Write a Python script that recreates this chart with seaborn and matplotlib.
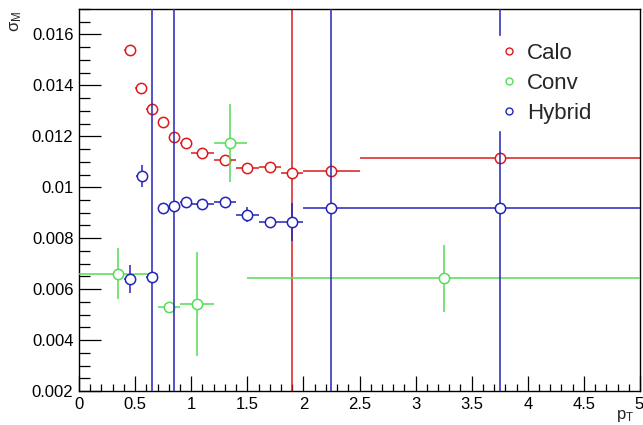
import numpy as np
import pandas as pd
import matplotlib
matplotlib.use("Agg")
import matplotlib.pyplot as plt
from matplotlib.lines import Line2D
from matplotlib.ticker import MultipleLocator, FormatStrFormatter
import seaborn as sns

# Mass resolution vs pT for three reconstruction methods
calo_pt   = [0.45, 0.55, 0.65, 0.75, 0.85, 0.95, 1.1, 1.3, 1.5, 1.7, 1.9, 2.25, 3.75]
calo_xerr = [0.05, 0.05, 0.05, 0.05, 0.05, 0.05, 0.1, 0.1, 0.1, 0.1, 0.1, 0.25, 1.25]
calo_sig  = [0.01541, 0.01391, 0.01308, 0.01258, 0.01198, 0.01174, 0.01134,
             0.01107, 0.01075, 0.01080, 0.01056, 0.01063, 0.01116]
calo_yerr = [0.00012, 0.00010, 0.00010, 0.00010, 0.00010, 0.00010, 0.00008,
             0.00012, 0.00008, 0.00008, 0.02, 0.00010, 0.00010]

conv_pt   = [0.35, 0.8, 1.05, 1.35, 3.25]
conv_xerr = [0.35, 0.1, 0.15, 0.15, 1.75]
conv_sig  = [0.00660, 0.00530, 0.00542, 0.01174, 0.00642]
conv_yerr = [0.00100, 0.00005, 0.00205, 0.00152, 0.00131]

hyb_pt    = [0.45, 0.557, 0.65, 0.75, 0.85, 0.95, 1.1, 1.3, 1.5, 1.7, 1.9, 2.25, 3.75]
hyb_xerr  = [0.05, 0.05, 0.05, 0.05, 0.05, 0.05, 0.1, 0.1, 0.1, 0.1, 0.1, 0.25, 1.25]
hyb_sig   = [0.00641, 0.01045, 0.00647, 0.00918, 0.00928, 0.00941, 0.00936,
             0.00944, 0.00893, 0.00863, 0.00863, 0.00918, 0.00918]
hyb_yerr  = [0.00055, 0.00042, 0.02, 0.00008, 0.02, 0.00016, 0.00008,
             0.00016, 0.00030, 0.00008, 0.00075, 0.02, 0.02]

series = [
    ("Calo", calo_pt, calo_xerr, calo_sig, calo_yerr, "#dd1a1a"),
    ("Conv", conv_pt, conv_xerr, conv_sig, conv_yerr, "#55dd55"),
    ("Hybrid", hyb_pt, hyb_xerr, hyb_sig, hyb_yerr, "#2424b8"),
]

sns.set_theme(style="ticks")
plt.rcParams["font.family"] = ["Liberation Sans", "DejaVu Sans"]
plt.rcParams["mathtext.fontset"] = "custom"
plt.rcParams["mathtext.rm"] = "Liberation Sans"
plt.rcParams["mathtext.it"] = "Liberation Sans"

fig = plt.figure(figsize=(6.43, 4.25), dpi=100)
ax = fig.add_axes([0.1229, 0.08, 0.8724, 0.8988])

z = 2
for name, pt, xe, sig, ye, col in series:
    df = pd.DataFrame({"pt": pt, "sigma": sig})
    ax.errorbar(df["pt"], df["sigma"], xerr=xe, yerr=ye, fmt="none",
                ecolor=col, elinewidth=1.1, capsize=0, zorder=z)
    sns.scatterplot(data=df, x="pt", y="sigma", ax=ax, marker="o", s=55,
                    facecolor="white", edgecolor=col, linewidth=1.1,
                    zorder=z + 1, legend=False)
    z += 2

ax.set_xlim(0, 5)
ax.set_ylim(0.002, 0.017)
ax.set_xlabel("")
ax.set_ylabel("")

ax.xaxis.set_major_locator(MultipleLocator(0.5))
ax.xaxis.set_minor_locator(MultipleLocator(0.1))
ax.yaxis.set_major_locator(MultipleLocator(0.002))
ax.yaxis.set_minor_locator(MultipleLocator(0.0005))
ax.xaxis.set_major_formatter(FormatStrFormatter("%g"))
ax.yaxis.set_major_formatter(FormatStrFormatter("%g"))

ax.tick_params(axis="both", which="both", direction="in", top=False, right=False,
               labelsize=12, colors="black", width=0.9)
ax.tick_params(axis="x", which="major", length=11, pad=4)
ax.tick_params(axis="x", which="minor", length=5)
ax.tick_params(axis="y", which="major", length=16, pad=4)
ax.tick_params(axis="y", which="minor", length=8)
for sp in ax.spines.values():
    sp.set_visible(True)
    sp.set_color("black")
    sp.set_linewidth(1.0)

# keep the last x tick label inside the canvas
fig.canvas.draw()
for lab in ax.get_xticklabels():
    if lab.get_text() == "5":
        lab.set_horizontalalignment("right")
        lab.set_transform(lab.get_transform() +
                          matplotlib.transforms.ScaledTranslation(0.04, 0, fig.dpi_scale_trans))

fig.text(0.025, 0.975, r"$\sigma_{\mathrm{M}}$", rotation=90, ha="center",
         va="top", fontsize=12)
fig.text(0.972, 0.040, r"$\mathrm{p}_{\mathrm{T}}$", ha="center",
         va="top", fontsize=12)

handles = [Line2D([], [], linestyle="none", marker="o", markersize=5,
                  markerfacecolor="white", markeredgecolor=s[5],
                  markeredgewidth=1.0, label=s[0]) for s in series]
leg = ax.legend(handles=handles, loc="upper left",
                bbox_to_anchor=(0.715, 0.958), frameon=True, fontsize=16,
                handletextpad=0.3, handlelength=1.0, labelspacing=0.4,
                borderpad=0.3)
leg.get_frame().set_facecolor("white")
leg.get_frame().set_edgecolor("white")
leg.get_frame().set_alpha(1.0)
leg.set_zorder(20)

fig.savefig("out.png", dpi=100, facecolor="white")
